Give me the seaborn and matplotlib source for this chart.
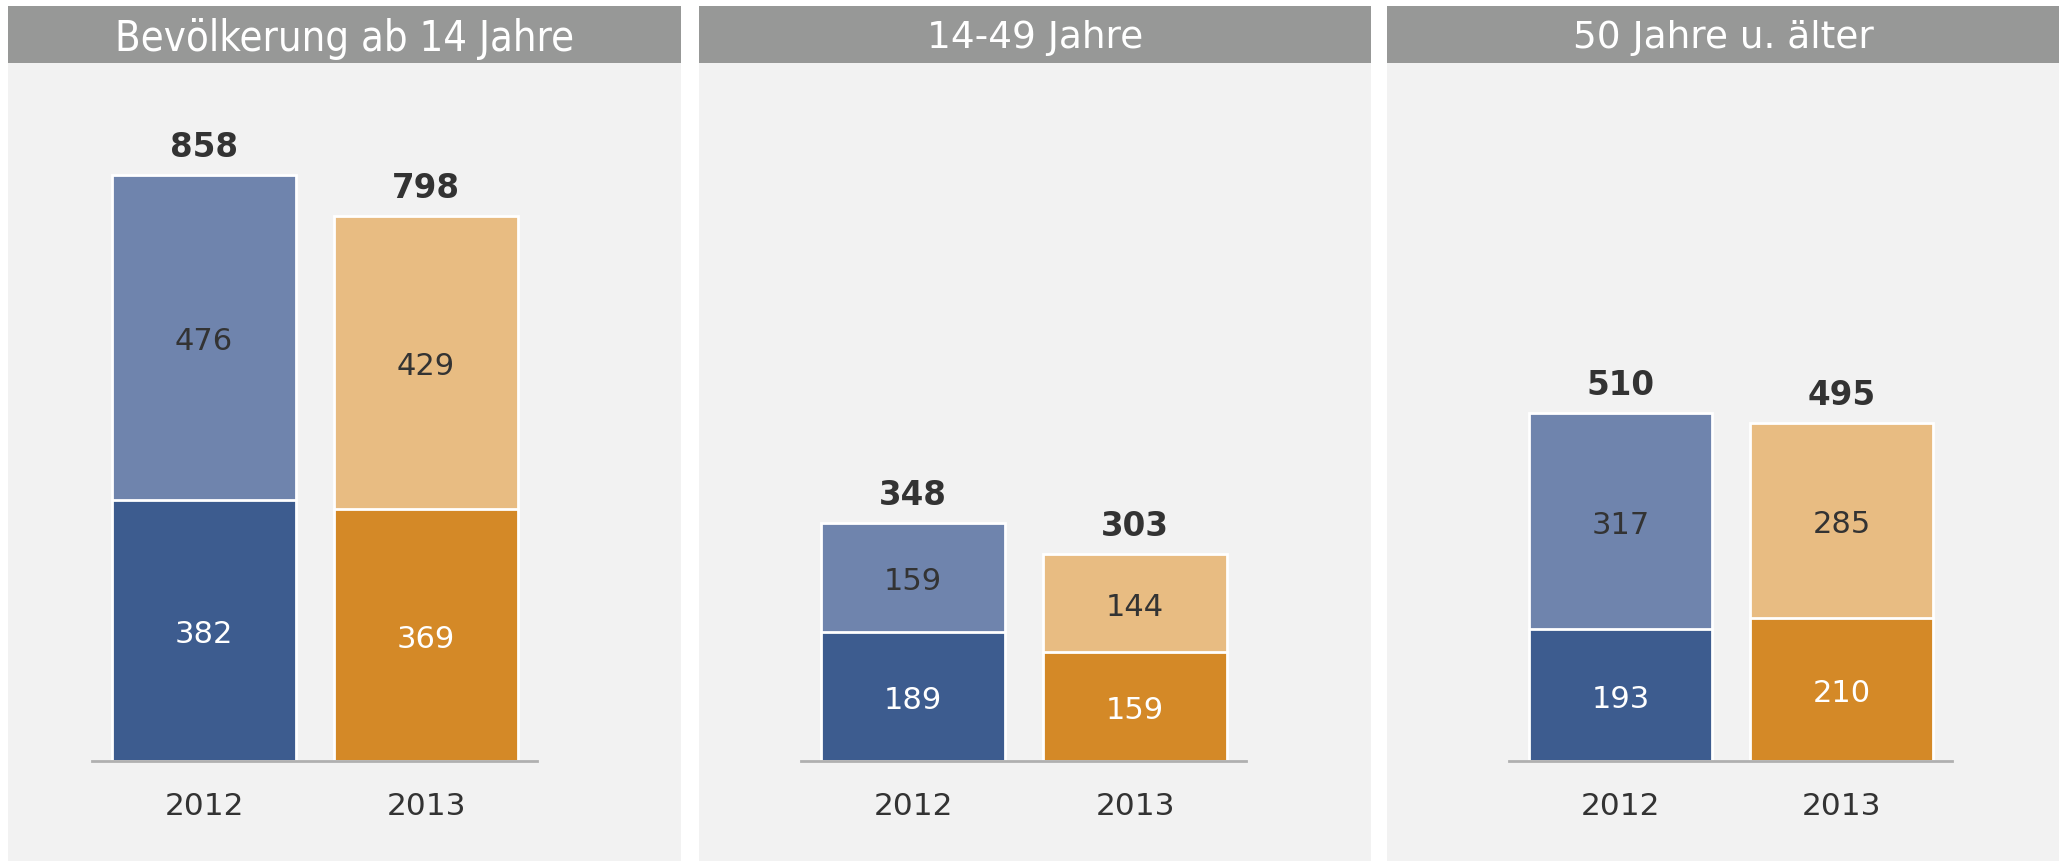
import matplotlib
matplotlib.use("Agg")
import matplotlib.pyplot as plt
import seaborn as sns
from matplotlib.patches import Rectangle

# =====================================================
# DATA
# =====================================================

years = ["2012", "2013"]

panel_titles = [
    "Bevölkerung ab 14 Jahre",
    "14-49 Jahre",
    "50 Jahre u. älter",
]

lower = [
    [382, 369],
    [189, 159],
    [193, 210],
]

upper = [
    [476, 429],
    [159, 144],
    [317, 285],
]

totals = [
    [858, 798],
    [348, 303],
    [510, 495],
]

# =====================================================
# STYLE
# =====================================================

sns.set_theme(style="white")
plt.rcParams["font.family"] = ["DejaVu Sans"]

DARK = ["#3d5c8f", "#d48927"]
LIGHT = ["#6f84ad", "#e8bc82"]
TEXT = "#333333"
PANEL_BG = "#f2f2f2"
HEADER = "#979897"

W, H = 2067, 861
fig = plt.figure(figsize=(W / 100, H / 100), dpi=100)
fig.patch.set_facecolor("white")

# panel boxes (pixels): left, right ; axes left, right
panel_x = [(8, 681), (699, 1371), (1387, 2059)]
axes_x = [(92, 537), (801, 1246), (1509, 1952)]

header_top, header_bot = 6, 63
baseline = 761

title_fonts = [
    dict(fontsize=30, fontstretch="condensed"),
    dict(fontsize=27),
    dict(fontsize=27),
]

for i, title in enumerate(panel_titles):

    x0, x1 = panel_x[i]

    fig.patches.append(Rectangle(
        (x0 / W, 0), (x1 - x0) / W, (H - header_bot) / H,
        transform=fig.transFigure, facecolor=PANEL_BG,
        edgecolor="none", zorder=-2
    ))

    fig.patches.append(Rectangle(
        (x0 / W, (H - header_bot) / H), (x1 - x0) / W,
        (header_bot - header_top) / H,
        transform=fig.transFigure, facecolor=HEADER,
        edgecolor="none", zorder=-2
    ))

    fig.text(
        (x0 + x1) / 2 / W, (H - (header_top + header_bot) / 2) / H,
        title, color="white", ha="center", va="center_baseline",
        **title_fonts[i]
    )

    a0, a1 = axes_x[i]
    ax = fig.add_axes([
        a0 / W, (H - baseline) / H,
        (a1 - a0) / W, (baseline - header_bot) / H
    ])
    ax.set_facecolor("none")

    sns.barplot(
        x=years, y=totals[i], hue=years, palette=LIGHT,
        width=0.83, edgecolor="white", linewidth=2,
        saturation=1, legend=False, ax=ax
    )

    sns.barplot(
        x=years, y=lower[i], hue=years, palette=DARK,
        width=0.83, edgecolor="white", linewidth=2,
        saturation=1, legend=False, ax=ax
    )

    for j in range(len(years)):

        ax.annotate(
            str(lower[i][j]), (j, lower[i][j] / 2),
            xytext=(0, -3), textcoords="offset points",
            ha="center", va="center", color="white", fontsize=22
        )

        ax.annotate(
            str(upper[i][j]), (j, lower[i][j] + upper[i][j] / 2),
            xytext=(0, -3), textcoords="offset points",
            ha="center", va="center", color=TEXT, fontsize=22
        )

        ax.annotate(
            str(totals[i][j]), (j, totals[i][j]),
            xytext=(0, 13), textcoords="offset points",
            ha="center", va="baseline", color=TEXT,
            fontsize=23.5, fontweight="bold"
        )

    ax.set_xlim(-0.505, 1.5)
    ax.set_ylim(0, 1022)
    ax.set_yticks([])
    ax.set_xlabel("")
    ax.set_ylabel("")

    for side in ["top", "left", "right"]:
        ax.spines[side].set_visible(False)

    ax.spines["bottom"].set_color("#b0b0b0")
    ax.spines["bottom"].set_linewidth(2)

    ax.tick_params(
        axis="x", length=0, pad=22,
        labelsize=22.5, labelcolor=TEXT
    )

fig.savefig("out.png", dpi=100, facecolor="white")
